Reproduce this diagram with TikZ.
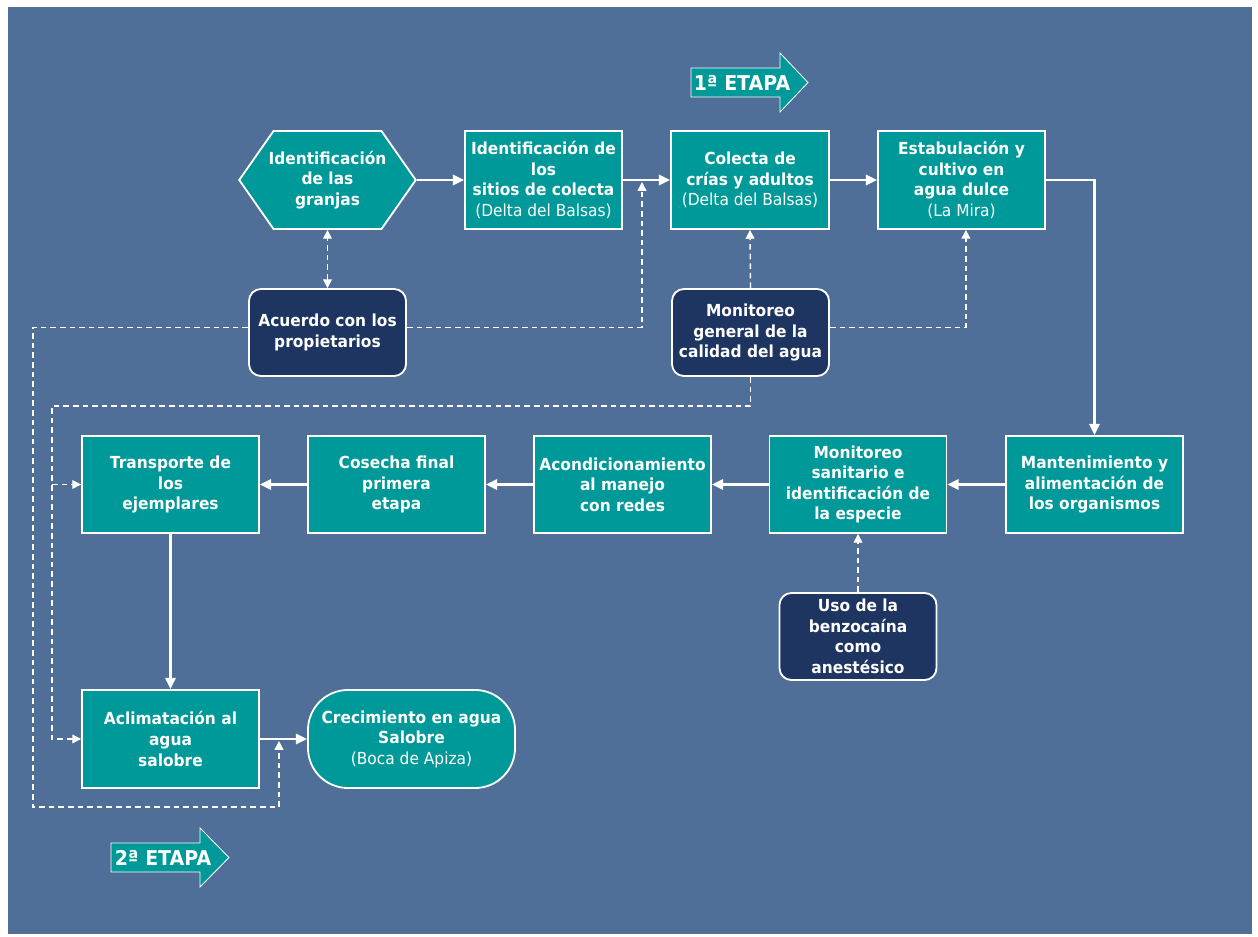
\documentclass[tikz,border=0pt]{standalone}
\usepackage{fontspec}
\setmainfont{DejaVu Sans}[FakeStretch=0.93]
\usepackage{xcolor}
\usepackage{tikz}
\usetikzlibrary{positioning,shapes.symbols,arrows.meta}
\definecolor{fondo}{RGB}{79,111,152}
\definecolor{verde}{RGB}{0,153,153}
\definecolor{marino}{RGB}{29,53,96}

\begin{document}
\begin{tikzpicture}[x=0.025cm,y=-0.025cm,
  paso/.style = {rectangle, draw=white, line width=1.3pt, fill=verde, text=white, align=center,
                 font=\fontsize{11.8}{14.6}\selectfont\bfseries, inner sep=1pt,
                 minimum width=4.425cm, minimum height=2.425cm},
  apoyo/.style = {paso, fill=marino, rounded corners=0.3cm, minimum width=3.925cm, minimum height=2.175cm},
  flujo/.style = {-{Triangle[length=0.28cm,width=0.26cm]}, white, line width=1.6pt},
  aviso/.style = {white, line width=1pt, dash pattern=on 0.14cm off 0.1cm,
                  >={Triangle[length=0.22cm,width=0.22cm]}},
  etapa/.style = {fill=verde, draw=white, line width=0.6pt},
  rotulo/.style = {text=white, font=\fontsize{14.5}{16}\selectfont\bfseries, inner sep=0pt}]
  % fondo
  \fill[white] (0,0) rectangle (1258,936);
  \fill[fondo] (8,7) rectangle (1252,934);

  % primera fila
  \node[paso, shape=signal, signal to=west and east, signal pointer angle=110, inner xsep=-0.125cm,
        minimum width=1cm, minimum height=2.45cm] (granjas) at (327.5,180)
        {Identificación\\de las\\granjas};
  \node[paso, minimum width=3.925cm, minimum height=2.45cm] (sitios) at (543.5,180)
        {Identificación de\\los\\sitios de colecta\\{\mdseries (Delta del Balsas)}};
  \node[paso, minimum width=3.95cm, minimum height=2.45cm] (colecta) at (750,180)
        {Colecta de\\crías y adultos\\{\mdseries (Delta del Balsas)}};
  \node[paso, minimum width=4.175cm, minimum height=2.45cm] (estab) at (961.5,180)
        {Estabulación y\\cultivo en\\agua dulce\\{\mdseries (La Mira)}};

  % apoyo
  \node[apoyo] (acuerdo) at (327.5,332.5) {Acuerdo con los\\propietarios};
  \node[apoyo] (monitoreo) at (750.5,332.5) {Monitoreo\\general de la\\calidad del agua};

  % segunda fila
  \node[paso] (transp) at (170.5,484.5) {Transporte de\\los\\ejemplares};
  \node[paso] (cosecha) at (396.5,484.5) {Cosecha final\\primera\\etapa};
  \node[paso] (acond) at (622.5,484.5) {Acondicionamiento\\al manejo\\con redes};
  \node[paso] (sanitario) at (858,484.5) {Monitoreo\\sanitario e\\identificación de\\la especie};
  \node[paso] (mant) at (1094.5,484.5) {Mantenimiento y\\alimentación de\\los organismos};
  \node[apoyo] (uso) at (858,636.5) {Uso de la\\benzocaína\\como\\anestésico};

  % tercera fila
  \node[paso, minimum height=2.45cm] (aclim) at (170.5,739) {Aclimatación al\\agua\\salobre};
  \node[paso, rounded corners=1cm, minimum width=5.175cm, minimum height=2.45cm] (crec) at (411.5,739)
        {Crecimiento en agua\\Salobre\\{\mdseries (Boca de Apiza)}};

  % etapas
  \draw[etapa] (691,68) -- (780,68) -- (780,53) -- (808,82.5) -- (780,112) -- (780,97) -- (691,97) -- cycle;
  \node[rotulo] (etapa1) at (742,83) {1ª ETAPA};
  \draw[etapa] (111,843) -- (200,843) -- (200,828) -- (229,857.5) -- (200,887) -- (200,872) -- (111,872) -- cycle;
  \node[rotulo] (etapa2) at (163,858) {2ª ETAPA};

  % flujo principal
  \draw[flujo] (granjas.east) to (sitios.west);
  \draw[flujo] (sitios.east) to (colecta.west);
  \draw[flujo] (colecta.east) to (estab.west);
  \draw[flujo] (estab.east) -| (mant.north);
  \draw[flujo] (mant.west) to (sanitario.east);
  \draw[flujo] (sanitario.west) to (acond.east);
  \draw[flujo] (acond.west) to (cosecha.east);
  \draw[flujo] (cosecha.west) to (transp.east);
  \draw[flujo] (transp.south) to (aclim.north);
  \draw[flujo] (aclim.east) to (crec.west);

  % lineas de apoyo
  \coordinate (llega1) at (642,182);
  \coordinate (llega2) at (279,741);
  \coordinate (esq1) at (33,807);
  \coordinate (esq2) at (52,406);
  \draw[aviso,<->] (acuerdo.north) to (granjas.south);
  \draw[aviso,->] ([yshift=0.13cm]acuerdo.east) -| (llega1);
  \draw[aviso,->] ([yshift=0.13cm]acuerdo.west) -| (esq1) -| (llega2);
  \draw[aviso,->] (monitoreo.north) to (colecta.south);
  \draw[aviso,->] ([yshift=0.13cm]monitoreo.east) -| ([xshift=0.11cm]estab.south);
  \draw[aviso,->] (monitoreo.south) |- (esq2) |- (aclim.west);
  \draw[aviso,->] (esq2 |- transp.west) to (transp.west);
  \draw[aviso,->] (uso.north) to (sanitario.south);
\end{tikzpicture}
\end{document}
